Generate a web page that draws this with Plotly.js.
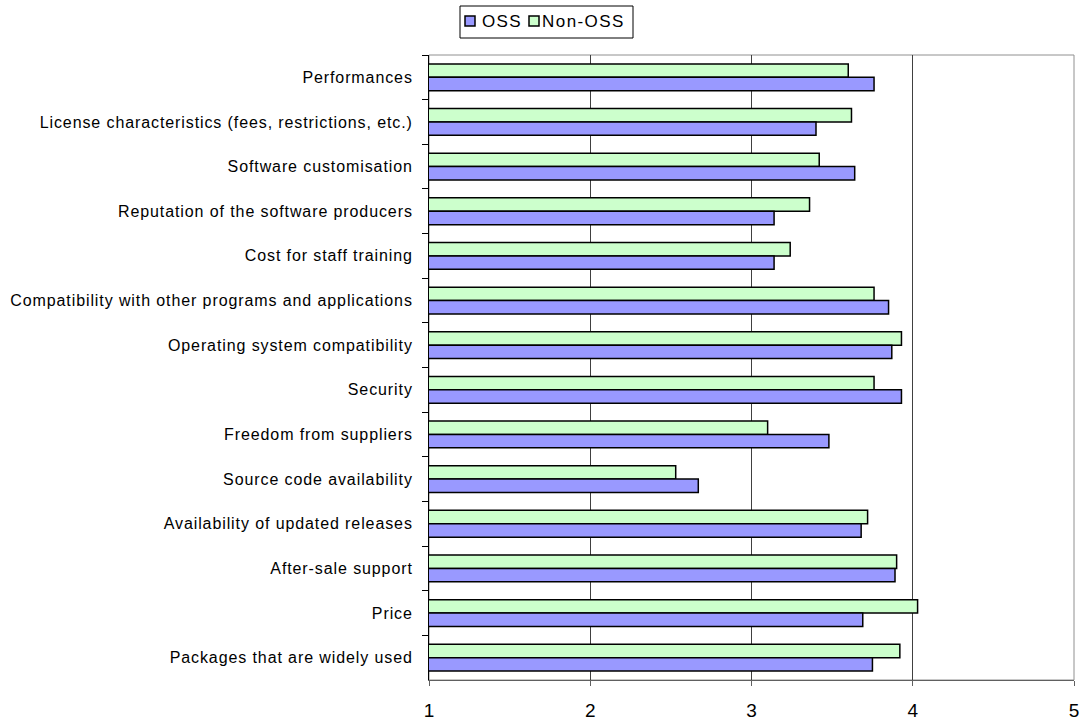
<!DOCTYPE html>
<html>
<head>
<meta charset="utf-8">
<script src="https://cdn.plot.ly/plotly-3.0.1.min.js"></script>
<style>
  html, body { margin: 0; padding: 0; background: #ffffff; }
  #chart { width: 1083px; height: 720px; }
  #chart .ytick text { letter-spacing: 0.9px; }
  #chart .annotation-text { letter-spacing: 1.4px; }
</style>
</head>
<body>
<div id="chart"></div>
<script>
// Categories, listed top to bottom as they appear in the chart
const categories = [
  "Performances",
  "License characteristics (fees, restrictions, etc.)",
  "Software customisation",
  "Reputation of the software producers",
  "Cost for staff training",
  "Compatibility with other programs and applications",
  "Operating system compatibility",
  "Security",
  "Freedom from suppliers",
  "Source code availability",
  "Availability of updated releases",
  "After-sale support",
  "Price",
  "Packages that are widely used"
];

const ossValues = [3.76, 3.40, 3.64, 3.14, 3.14, 3.85, 3.87, 3.93, 3.48, 2.67, 3.68, 3.89, 3.69, 3.75];
const nonOssValues = [3.60, 3.62, 3.42, 3.36, 3.24, 3.76, 3.93, 3.76, 3.10, 2.53, 3.72, 3.90, 4.03, 3.92];

const seriesNames = ["OSS", "Non-OSS"];
const seriesColors = ["#9999FF", "#CCFFCC"];
const xTickValues = [1, 2, 3, 4, 5];

const FONT = "Liberation Sans, Arial, sans-serif";

// plot area in pixels (for placing the hand-drawn legend)
const PLOT = { left: 429, right: 1074, top: 55, bottom: 680 };
const px = (x) => (x - PLOT.left) / (PLOT.right - PLOT.left);
const py = (y) => (PLOT.bottom - y) / (PLOT.bottom - PLOT.top);

const traces = [
  {
    type: "bar",
    orientation: "h",
    name: seriesNames[1],
    y: categories,
    x: nonOssValues,
    marker: { color: seriesColors[1], line: { color: "#000000", width: 1.5 } },
    hoverinfo: "x+y+name"
  },
  {
    type: "bar",
    orientation: "h",
    name: seriesNames[0],
    y: categories,
    x: ossValues,
    marker: { color: seriesColors[0], line: { color: "#000000", width: 1.5 } },
    hoverinfo: "x+y+name"
  }
];

// Legend (boxed, Excel-style)
const legendShapes = [
  { type: "rect", xref: "paper", yref: "paper",
    x0: px(460), x1: px(633), y0: py(6), y1: py(38),
    line: { color: "#000000", width: 1 }, fillcolor: "#ffffff" },
  { type: "rect", xref: "paper", yref: "paper",
    x0: px(465), x1: px(475), y0: py(16), y1: py(26),
    line: { color: "#000000", width: 1.5 }, fillcolor: seriesColors[0] },
  { type: "rect", xref: "paper", yref: "paper",
    x0: px(529), x1: px(539), y0: py(16), y1: py(26),
    line: { color: "#000000", width: 1.5 }, fillcolor: seriesColors[1] }
];
const legendAnnotations = [
  { xref: "paper", yref: "paper", x: px(482), y: py(21.5), xanchor: "left", yanchor: "middle",
    text: seriesNames[0], showarrow: false, font: { family: FONT, size: 17, color: "#000000" } },
  { xref: "paper", yref: "paper", x: px(545), y: py(21.5), xanchor: "left", yanchor: "middle",
    text: seriesNames[1], showarrow: false, font: { family: FONT, size: 17, color: "#000000" } }
];

const layout = {
  width: 1083,
  height: 720,
  margin: { l: PLOT.left, r: 1083 - PLOT.right, t: PLOT.top, b: 720 - PLOT.bottom, pad: 0 },
  paper_bgcolor: "#ffffff",
  plot_bgcolor: "#ffffff",
  font: { family: FONT, color: "#000000", size: 16 },
  barmode: "group",
  bargap: 0.4,
  bargroupgap: 0,
  showlegend: false,
  xaxis: {
    range: [1, 5],
    tickvals: xTickValues,
    ticktext: xTickValues.map(String),
    showgrid: true,
    gridcolor: "#404040",
    gridwidth: 1,
    zeroline: false,
    showline: true,
    linecolor: "#606060",
    linewidth: 1,
    ticks: "outside",
    ticklen: 5,
    tickcolor: "#606060",
    ticklabelstandoff: 8,
    tickfont: { family: FONT, size: 19, color: "#000000" },
    fixedrange: true
  },
  yaxis: {
    type: "category",
    autorange: "reversed",
    showgrid: false,
    zeroline: false,
    showline: true,
    linecolor: "#000000",
    linewidth: 1,
    ticks: "outside",
    tickson: "boundaries",
    ticklen: 6,
    tickcolor: "#000000",
    ticklabelstandoff: 12,
    tickfont: { family: FONT, size: 16, color: "#000000" },
    fixedrange: true
  },
  shapes: [
    {
      type: "rect", xref: "paper", yref: "paper",
      x0: 0, x1: 1, y0: 0, y1: 1,
      line: { color: "#909090", width: 1 },
      fillcolor: "rgba(0,0,0,0)",
      layer: "below"
    }
  ].concat(legendShapes),
  annotations: legendAnnotations
};

Plotly.newPlot("chart", traces, layout, { displayModeBar: false, staticPlot: true });
</script>
</body>
</html>
